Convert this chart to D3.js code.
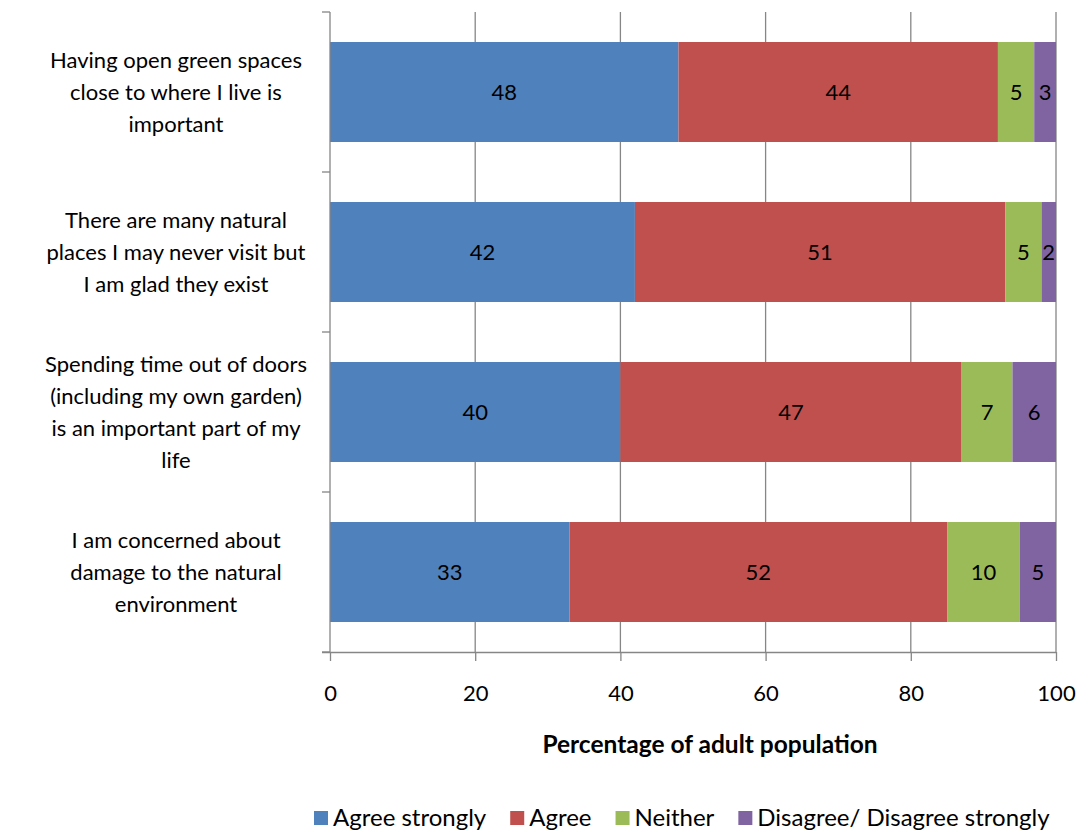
<!DOCTYPE html>
<html><head><meta charset="utf-8">
<script src="https://cdn.jsdelivr.net/npm/d3@7"></script>
<style>body{margin:0;background:#fff;} text{font-family:Lato, "Open Sans", sans-serif;}</style>
</head><body>
<svg id="chart" width="1079" height="834"></svg>
<script>
const categories = [
  ["Having open green spaces", "close to where I live is", "important"],
  ["There are many natural", "places I may never visit but", "I am glad they exist"],
  ["Spending time out of doors", "(including my own garden)", "is an important part of my", "life"],
  ["I am concerned about", "damage to the natural", "environment"]
];
const seriesNames = ["Agree strongly", "Agree", "Neither", "Disagree/ Disagree strongly"];
const agreeStrongly = [48, 42, 40, 33];
const agree = [44, 51, 47, 52];
const neither = [5, 5, 7, 10];
const disagree = [3, 2, 6, 5];
const colors = ["#4F81BD", "#C0504D", "#9BBB59", "#8064A2"];
const xTicks = [0, 20, 40, 60, 80, 100];
const axisTitle = "Percentage of adult population";

const svg = d3.select("#chart");
const pLeft = 330, pRight = 1056, pTop = 12, pBottom = 652;
const x = d3.scaleLinear().domain([0, 100]).range([pLeft, pRight]);
const y = d3.scaleBand().domain(d3.range(categories.length)).range([pTop, pBottom]).paddingInner(0.375).paddingOuter(0.1875);

// gridlines
svg.append("g").selectAll("line").data(xTicks.slice(1)).join("line")
  .attr("x1", d => x(d)).attr("x2", d => x(d)).attr("y1", pTop).attr("y2", pBottom)
  .attr("stroke", "#868686").attr("stroke-width", 1.3);

const seriesVals = [agreeStrongly, agree, neither, disagree];
const rows = categories.map((c, i) => {
  const o = {i};
  seriesNames.forEach((s, k) => o[s] = seriesVals[k][i]);
  return o;
});
const stack = d3.stack().keys(seriesNames)(rows);

const g = svg.append("g");
stack.forEach((layer, k) => {
  g.append("g").selectAll("rect").data(layer).join("rect")
    .attr("x", d => x(d[0])).attr("width", d => x(d[1]) - x(d[0]))
    .attr("y", d => y(d.data.i)).attr("height", y.bandwidth())
    .attr("fill", colors[k]);
  g.append("g").selectAll("text").data(layer).join("text")
    .attr("x", d => (x(d[0]) + x(d[1])) / 2)
    .attr("y", d => y(d.data.i) + y.bandwidth() / 2)
    .attr("dy", "0.35em").attr("text-anchor", "middle")
    .attr("font-size", 22).attr("fill", "#000")
    .text(d => d[1] - d[0]);
});

// y axis
const step = (pBottom - pTop) / categories.length;
svg.append("line").attr("x1", pLeft).attr("x2", pLeft).attr("y1", pTop).attr("y2", pBottom)
  .attr("stroke", "#868686").attr("stroke-width", 1.3);
svg.append("g").selectAll("line").data(d3.range(categories.length + 1)).join("line")
  .attr("x1", pLeft - 8).attr("x2", pLeft).attr("y1", d => pTop + d * step).attr("y2", d => pTop + d * step)
  .attr("stroke", "#868686").attr("stroke-width", 1.3);

// x axis
const xAxis = d3.axisBottom(x).tickValues(xTicks).tickSize(9).tickSizeOuter(0);
const xa = svg.append("g").attr("transform", `translate(0,${pBottom})`).call(xAxis);
xa.select(".domain").attr("stroke", "#868686").attr("stroke-width", 1.3).attr("d", `M${pLeft - 8},0.5H${pRight}`);
xa.selectAll(".tick line").attr("stroke", "#868686").attr("stroke-width", 1.3);
xa.selectAll(".tick text").attr("font-size", 22).attr("fill", "#000").attr("y", 41).attr("dy", "0.35em")
  .style("font-family", "Lato, 'Open Sans', sans-serif");

svg.append("text").attr("x", 710).attr("y", 744).attr("dy", "0.35em").attr("text-anchor", "middle")
  .attr("font-size", 24.5).attr("font-weight", "bold").text(axisTitle);

// category labels
categories.forEach((lines, i) => {
  const cy = y(i) + y.bandwidth() / 2;
  const lh = 32;
  const t = svg.append("text").attr("text-anchor", "middle").attr("font-size", 22).attr("fill", "#000");
  lines.forEach((l, j) => {
    t.append("tspan").attr("x", 176).attr("y", cy + (j - (lines.length - 1) / 2) * lh).attr("dy", "0.35em").text(l);
  });
});

// legend
const lg = svg.append("g");
let lx = 314;
seriesNames.forEach((s, k) => {
  lg.append("rect").attr("x", lx).attr("y", 811).attr("width", 14).attr("height", 14).attr("fill", colors[k]);
  const t = lg.append("text").attr("x", lx + 19).attr("y", 818).attr("dy", "0.35em").attr("font-size", 24).text(s);
  lx += 19 + t.node().getComputedTextLength() + 24;
});
</script>
</body></html>
